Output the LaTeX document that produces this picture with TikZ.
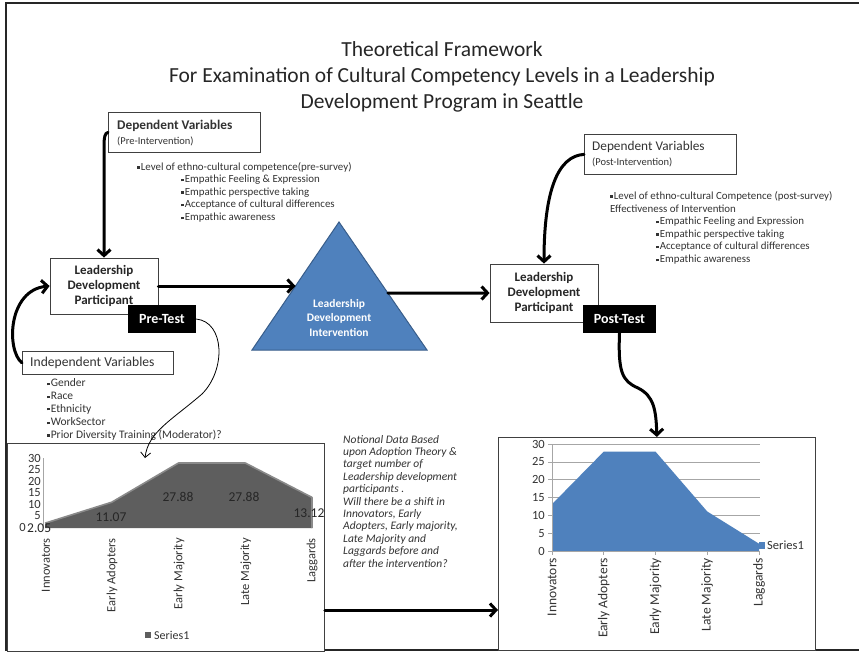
\documentclass[tikz,border=0pt]{standalone}
\usepackage{fontspec}
\setmainfont{Carlito}
\usetikzlibrary{arrows.meta,calc}

\definecolor{ink}{HTML}{262626}
\definecolor{txt}{HTML}{333333}
\definecolor{boxline}{HTML}{404040}
\definecolor{triblue}{HTML}{4F81BD}
\definecolor{triedge}{HTML}{385D8A}
\definecolor{areagray}{HTML}{5E5E5E}
\definecolor{areatop}{HTML}{8A8A8A}
\definecolor{grid}{HTML}{A6A6A6}

\newcommand\fsz[2]{\fontsize{#1pt}{#2pt}\selectfont}
\newcommand\sqb{\raisebox{0.3ex}{\rule{2.4pt}{2.4pt}}\hspace{1.2pt}}

\tikzset{
  box/.style={draw=boxline, line width=0.8pt, fill=white},
  tagbox/.style={fill=black, text=white, font=\fsz{14}{16}\bfseries, inner sep=0pt},
  ldpbox/.style={box, align=center, font=\fsz{13}{15}\bfseries, text=ink, inner sep=0pt},
  label/.style={inner sep=0pt, text=txt},
  bullet/.style={label, anchor=west, font=\fsz{10.9}{12}},
  bigarrow/.style={line width=3pt, line cap=round, -{Straight Barb[length=6pt,width=13pt,line width=3pt]}},
  thinarrow/.style={line width=0.8pt, -{Straight Barb[length=5pt,width=10pt]}},
  chartframe/.style={draw=boxline, line width=0.8pt, fill=white, inner sep=0pt},
  tick/.style={inner sep=0pt, text=txt, font=\fsz{12}{14}},
}

\begin{document}
\begin{tikzpicture}[x=1pt,y=-1pt]
\useasboundingbox (0,0) rectangle (859,653);
\fill[white] (0,0) rectangle (859,653);

% page frame (open on the right)
\draw[line width=1.6pt, black!85] (859,3) -- (6,3) -- (6,650) -- (859,650);

% title
\node[font=\fsz{21.5}{26}, align=center, text=ink, inner sep=0pt] (title) at (442,77)
  {Theoretical Framework\\For Examination of Cultural Competency Levels in a Leadership\\Development Program in Seattle};

% ---------- left column: pre-intervention ----------
\node[box, anchor=north west, minimum width=152pt, minimum height=40pt] (depPre) at (108,112) {};
\node[label, anchor=west, font=\fsz{13.3}{15}\bfseries] (depPreT) at (117,126) {Dependent Variables};
\node[label, anchor=west, font=\fsz{10.5}{12}] (depPreS) at (117,141) {(Pre-Intervention)};

\node[bullet] (preL0) at (137,167) {\sqb Level of ethno-cultural competence(pre-survey)};
\node[bullet] (preL1) at (181,180) {\sqb Empathic Feeling \& Expression};
\node[bullet] (preL2) at (181,192.5) {\sqb Empathic perspective taking};
\node[bullet] (preL3) at (181,205) {\sqb Acceptance of cultural differences};
\node[bullet] (preL4) at (181,218) {\sqb Empathic awareness};

\node[ldpbox, minimum width=108pt, minimum height=56pt] (ldpA) at (104,286) {Leadership\\Development\\Participant};
\node[tagbox, minimum width=68pt, minimum height=28pt] (preTest) at (162,319) {Pre-Test};

\node[box, anchor=north west, minimum width=151pt, minimum height=23pt] (indep) at (22,351) {};
\node[label, anchor=west, font=\fsz{13.6}{16}] (indepT) at (30,363) {Independent Variables};
\node[label, anchor=west, font=\fsz{11.5}{12}] (iv1) at (47,383) {\sqb Gender};
\node[label, anchor=west, font=\fsz{11.5}{12}] (iv2) at (47,396) {\sqb Race};
\node[label, anchor=west, font=\fsz{11.5}{12}] (iv3) at (47,409) {\sqb Ethnicity};
\node[label, anchor=west, font=\fsz{11.5}{12}] (iv4) at (47,422) {\sqb WorkSector};
\node[label, anchor=west, font=\fsz{11.5}{12}] (iv5) at (47,435) {\sqb Prior Diversity Training (Moderator)?};

% ---------- intervention triangle ----------
\coordinate (apex) at (339,222);
\coordinate (baseL) at (252,350);
\coordinate (baseR) at (427,350);
\fill[triblue] (apex) -- (baseR) -- (baseL) -- cycle;
\draw[triedge, line width=1pt, line join=miter] (apex) -- (baseR) -- (baseL) -- cycle;
\node[align=center, font=\fsz{11.5}{14.5}\bfseries, text=white, inner sep=0pt] (interv) at (339,318)
  {Leadership\\Development\\Intervention};
\coordinate (triL) at ($(apex)!0.5!(baseL)$);
\coordinate (triR) at ($(apex)!0.5547!(baseR)$);

% ---------- right column: post-intervention ----------
\node[box, anchor=north west, minimum width=152pt, minimum height=40pt] (depPost) at (584,134) {};
\node[label, anchor=west, font=\fsz{13.3}{15}] (depPostT) at (592,147) {Dependent Variables};
\node[label, anchor=west, font=\fsz{10.5}{12}] (depPostS) at (592,162) {(Post-Intervention)};

\node[bullet] (postL0) at (610,196) {\sqb Level of ethno-cultural Competence (post-survey)};
\node[bullet] (postL1) at (610,209) {Effectiveness of Intervention};
\node[bullet] (postL2) at (656,222) {\sqb Empathic Feeling and Expression};
\node[bullet] (postL3) at (656,234.5) {\sqb Empathic perspective taking};
\node[bullet] (postL4) at (656,247) {\sqb Acceptance of cultural differences};
\node[bullet] (postL5) at (656,260) {\sqb Empathic awareness};

\node[ldpbox, minimum width=108pt, minimum height=58pt] (ldpB) at (544,293) {Leadership\\Development\\Participant};
\node[tagbox, minimum width=73pt, minimum height=28pt] (postTest) at (619.5,319) {Post-Test};

% ---------- chart frames ----------
\node[chartframe, anchor=north west, minimum width=317pt, minimum height=208pt] (chartA) at (7,443) {};
\node[chartframe, anchor=north west, minimum width=317pt, minimum height=213pt] (chartB) at (498,437) {};

% ---------- connectors ----------
\draw[bigarrow] (depPre.west) .. controls (105,133) and (104,137) .. (104,146) -- (ldpA.north);
\draw[bigarrow] (ldpA.east |- triL) -- (triL);
\draw[bigarrow] (triR) -- (ldpB.west);
\draw[bigarrow] (indep.west) .. controls (6,350) and (8,290) .. (ldpA.west);
\draw[bigarrow] (depPost.west) .. controls (558,156) and (544,190) .. (ldpB.north);
\draw[bigarrow] (postTest.south) .. controls (618,372) and (622,381) .. (638,388)
  .. controls (654,396) and (656,410) .. (chartB.north);
\coordinate (preTarget) at (145,458);
\draw[thinarrow] (preTest.east) .. controls (225,322) and (226,370) .. (202,394)
  .. controls (172,420) and (148,432) .. (preTarget);
\coordinate (midline) at (0,610);
\draw[bigarrow] (midline -| chartA.east) -- (midline -| chartB.west);

% ---------- italic note ----------
\node[anchor=north west, align=left, font=\fsz{11.5}{12.4}\itshape, text=txt, inner sep=0pt] (note) at (343,435)
  {Notional Data Based\\upon Adoption Theory \&\\target number of\\Leadership development\\participants .\\Will there be a shift in\\Innovators, Early\\Adopters, Early majority,\\Late Majority and\\Laggards before and\\after the intervention?};

% ---------- left chart: pre-test distribution ----------
\draw[grid, line width=0.7pt] (43,458) -- (43,528);
\fill[areagray] (45,528) -- (45,523.2) -- (111.75,502.2) -- (178.5,463) -- (245.25,463) -- (312,497.4) -- (312,528) -- cycle;
\draw[areatop, line width=1.6pt, line join=round] (45,523.2) -- (111.75,502.2) -- (178.5,463) -- (245.25,463) -- (312,497.4) -- (312,528);
\foreach \v/\yy in {30/458,25/469.7,20/481.3,15/493,10/504.7,5/515.8}
  \node[tick, font=\fsz{12.5}{14}, anchor=east] at (41,\yy) {\v};
\node[tick, font=\fsz{12.5}{14}, anchor=east] (zeroA) at (26,527.5) {0};
\node[tick, font=\fsz{13.5}{15}, text=ink, anchor=west] (dA1) at (27,528.5) {2.05};
\node[tick, font=\fsz{13.5}{15}, text=ink] (dA2) at (111,517) {11.07};
\node[tick, font=\fsz{13.5}{15}, text=ink] (dA3) at (178,497) {27.88};
\node[tick, font=\fsz{13.5}{15}, text=ink] (dA4) at (244,497) {27.88};
\node[tick, font=\fsz{13.5}{15}, text=ink] (dA5) at (309,513) {13.12};
\foreach \x/\t in {46/Innovators,112/Early Adopters,179/Early Majority,246/Late Majority,312/Laggards}
  \node[tick, font=\fsz{12.5}{14}, rotate=90, anchor=east] at (\x,538) {\t};
\fill[areagray] (145,632) rectangle (151,638);
\node[tick, anchor=west] (legA) at (154,635) {Series1};

% ---------- right chart: post-test distribution ----------
\foreach \v in {5,10,...,30}
  \draw[grid, line width=0.6pt] (548,{551-3.567*\v}) -- (760,{551-3.567*\v});
\fill[triblue] (552,551) -- (552,504.2) -- (603.75,451.6) -- (655.5,451.6) -- (707.25,511.5) -- (759,543.7) -- (759,551) -- cycle;
\draw[grid, line width=0.7pt] (552,444) -- (552,551) -- (760,551);
\draw[grid, line width=0.7pt] (548,551) -- (552,551);
\foreach \x in {552,603.75,655.5,707.25,759}
  \draw[grid, line width=0.7pt] (\x,551) -- (\x,555);
\foreach \v in {0,5,...,30}
  \node[tick, font=\fsz{12.5}{14}, anchor=east] at (545,{551-3.567*\v}) {\v};
\foreach \x/\t in {552/Innovators,603.75/Early Adopters,655.5/Early Majority,707.25/Late Majority,759/Laggards}
  \node[tick, font=\fsz{13.5}{15}, rotate=90, anchor=east] at (\x,558) {\t};
\fill[triblue] (759,541.5) rectangle (765,548.5);
\node[tick, font=\fsz{12.5}{14}, anchor=west] (legB) at (767,545) {Series1};

\end{tikzpicture}
\end{document}
